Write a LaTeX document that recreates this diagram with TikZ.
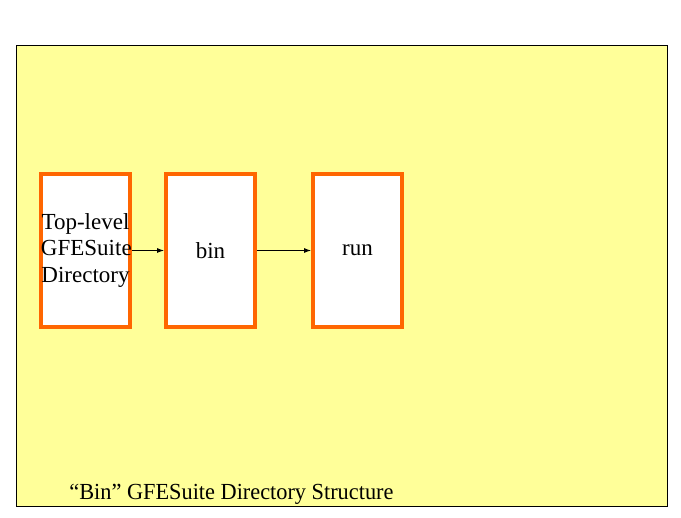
\documentclass[tikz,border=0pt]{standalone}
\usepackage{fontspec}
\setmainfont{Liberation Serif}
\usetikzlibrary{positioning,arrows.meta}

\definecolor{slidebg}{RGB}{255,255,153}
\definecolor{boxline}{RGB}{255,102,0}

\begin{document}
\begin{tikzpicture}[x=1pt, y=-1pt, every node/.style={font=\fontsize{23}{26.5}\selectfont},
    dirbox/.style={rectangle, draw=boxline, line width=4pt, fill=white, text width=89pt, minimum height=153pt, inner sep=0pt, align=center},
    link/.style={-{Latex[length=7pt,width=5pt]}, thick}]
    \useasboundingbox (0,0) rectangle (681,518);
    \draw[fill=slidebg, line width=0.8pt] (16,45) rectangle (667,506);
    \node[dirbox, anchor=north west] (top) at (39,172) {Top-level\\GFESuite\\Directory};
    \node[dirbox, right=32pt of top] (bin) {bin};
    \node[dirbox, right=54pt of bin] (run) {run};
    \draw[link] (top) -- (bin);
    \draw[link] (bin) -- (run);
    \node[anchor=base west, xscale=0.97] (caption) at (66,500) {``Bin'' GFESuite Directory Structure};
\end{tikzpicture}
\end{document}
